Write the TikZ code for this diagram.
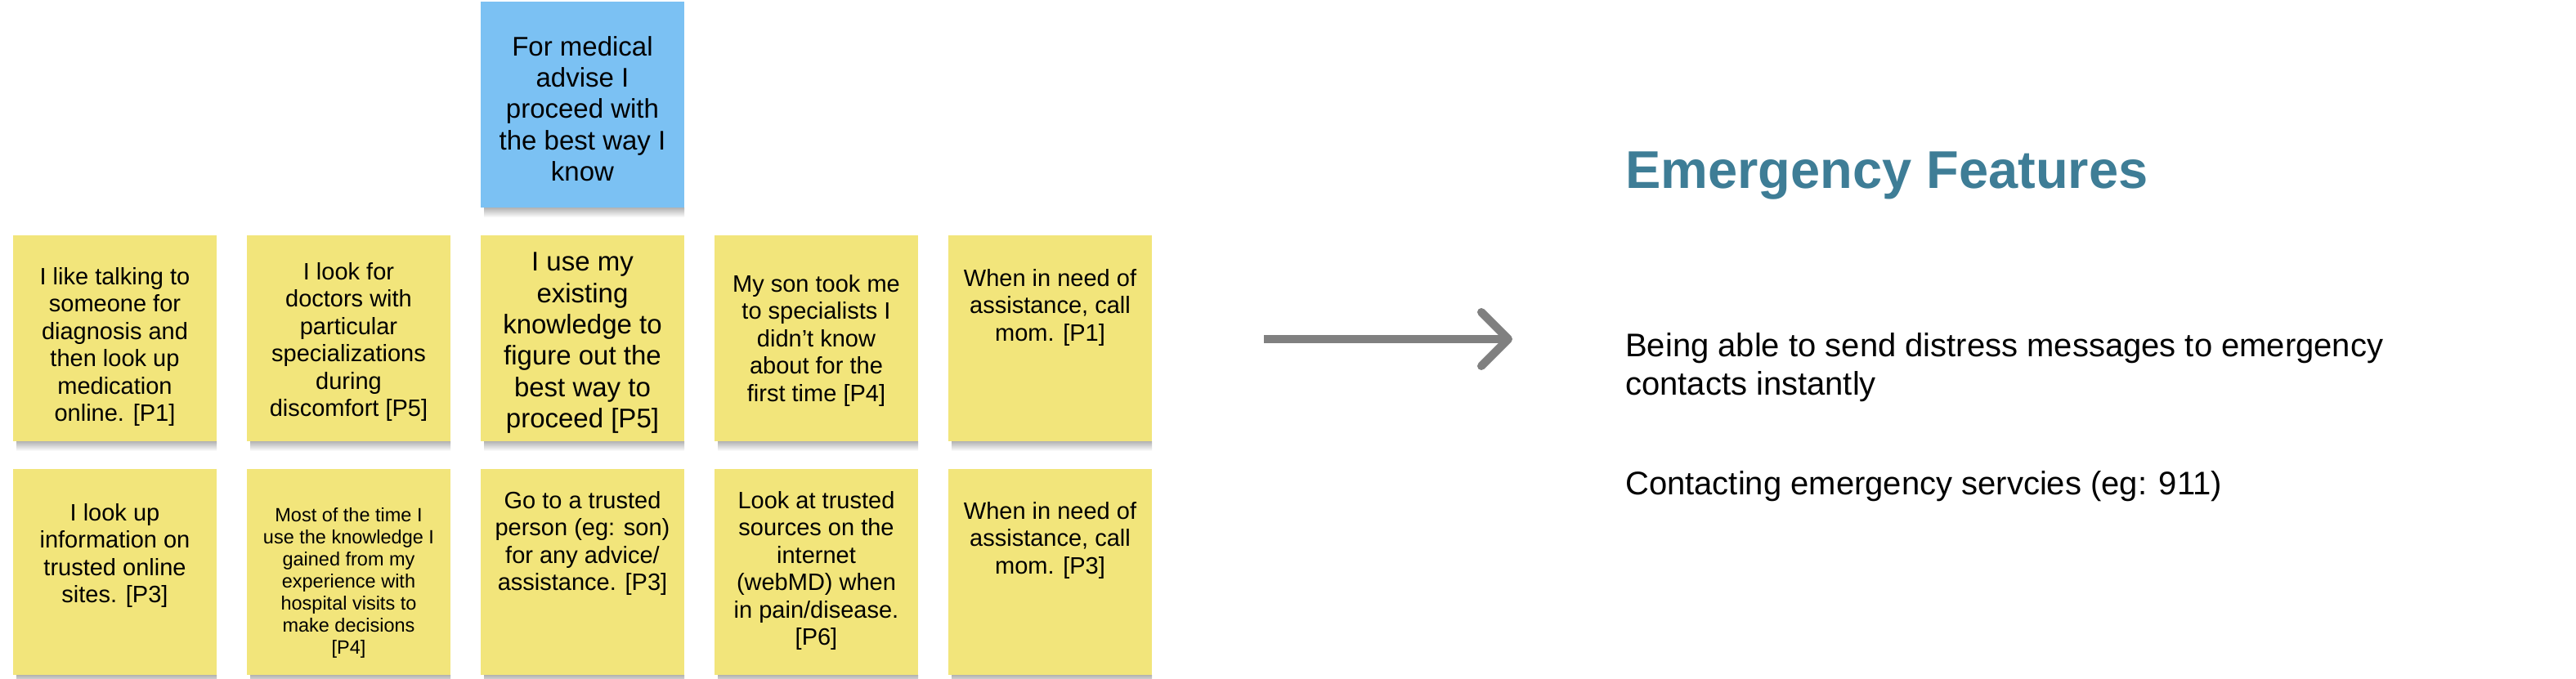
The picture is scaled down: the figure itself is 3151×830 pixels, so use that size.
\documentclass[tikz,border=0pt]{standalone}
\usepackage{fontspec}
\setmainfont{Liberation Sans}
\usetikzlibrary{calc}
\definecolor{noteyellow}{HTML}{F2E57B}
\definecolor{noteblue}{HTML}{7BC1F3}
\definecolor{titleteal}{HTML}{3E7D96}
\definecolor{arrowgray}{HTML}{808080}
\tikzset{
  note/.style={draw=none, minimum width=249pt, minimum height=252pt, inner sep=0pt, outer sep=0pt, anchor=north west},
  yellownote/.style={note, fill=noteyellow},
  bluenote/.style={note, fill=noteblue},
  notetext/.style={align=center, inner sep=0pt, anchor=north, font=\fontsize{29pt}{33.5pt}\selectfont},
  bigtext/.style={notetext, font=\fontsize{33pt}{38.3pt}\selectfont},
  smalltext/.style={notetext, font=\fontsize{23.5pt}{27pt}\selectfont},
  shadowbar/.style={top color=black!30, bottom color=white},
  bodytext/.style={inner sep=0pt, align=left, font=\fontsize{40pt}{47pt}\selectfont},
  titletext/.style={inner sep=0pt, text=titleteal, font=\fontsize{65pt}{70pt}\selectfont\bfseries},
  arrowline/.style={draw=arrowgray, line width=10pt},
}
\newcommand{\noteshadow}[1]{\shade[shadowbar] ($(#1.south west)+(4,0)$) rectangle ($(#1.south east)+(0,12)$);}
\begin{document}
\begin{tikzpicture}[x=1pt,y=-1pt]
\useasboundingbox (0,0) rectangle (3151,830);
\fill[white] (0,0) rectangle (3151,830);

% top blue note
\node[bluenote] (b0) at (588,2) {};
% row 1
\node[yellownote] (n11) at (16,288) {};
\node[yellownote] (n12) at (302,288) {};
\node[yellownote] (n13) at (588,288) {};
\node[yellownote] (n14) at (874,288) {};
\node[yellownote] (n15) at (1160,288) {};
% row 2
\node[yellownote] (n21) at (16,574) {};
\node[yellownote] (n22) at (302,574) {};
\node[yellownote] (n23) at (588,574) {};
\node[yellownote] (n24) at (874,574) {};
\node[yellownote] (n25) at (1160,574) {};

\foreach \n in {b0,n11,n12,n13,n14,n15,n21,n22,n23,n24,n25} {\noteshadow{\n}}

% texts
\node[bigtext] (tb0) at (712.5,44) {For medical\\advise I\\proceed with\\the best way I\\know};

\node[notetext] (t11) at (140.5,327) {I like talking to\\someone for\\diagnosis and\\then look up\\medication\\online. [P1]};
\node[notetext] (t12) at (426.5,321) {I look for\\doctors with\\particular\\specializations\\during\\discomfort [P5]};
\node[bigtext] (t13) at (712.5,309) {I use my\\existing\\knowledge to\\figure out the\\best way to\\proceed [P5]};
\node[notetext] (t14) at (998.5,336) {My son took me\\to specialists I\\didn’t know\\about for the\\first time [P4]};
\node[notetext] (t15) at (1284.5,329) {When in need of\\assistance, call\\mom. [P1]};

\node[notetext] (t21) at (140.5,616) {I look up\\information on\\trusted online\\sites. [P3]};
\node[smalltext] (t22) at (426.5,621) {Most of the time I\\use the knowledge I\\gained from my\\experience with\\hospital visits to\\make decisions\\{[P4]}};
\node[notetext] (t23) at (712.5,601) {Go to a trusted\\person (eg: son)\\for any advice/\\assistance. [P3]};
\node[notetext] (t24) at (998.5,601) {Look at trusted\\sources on the\\internet\\(webMD) when\\in pain/disease.\\{[P6]}};
\node[notetext] (t25) at (1284.5,614) {When in need of\\assistance, call\\mom. [P3]};

% arrow
\coordinate (arrowstart) at (1546,415);
\coordinate (arrowend) at (1845,415);
\draw[arrowline] (arrowstart) -- (arrowend);
\draw[arrowline, line cap=round, line join=round] ($(arrowend)+(-33,-33)$) -- (arrowend) -- ($(arrowend)+(-33,33)$);

% right side
\node[titletext, anchor=base west] (title) at (1988,230) {Emergency Features};
\node[bodytext, anchor=north west] (f1) at (1988,407) {Being able to send distress messages to emergency\\contacts instantly};
\node[bodytext, anchor=base west] (f2) at (1988,605) {Contacting emergency servcies (eg: 911)};
\end{tikzpicture}
\end{document}
